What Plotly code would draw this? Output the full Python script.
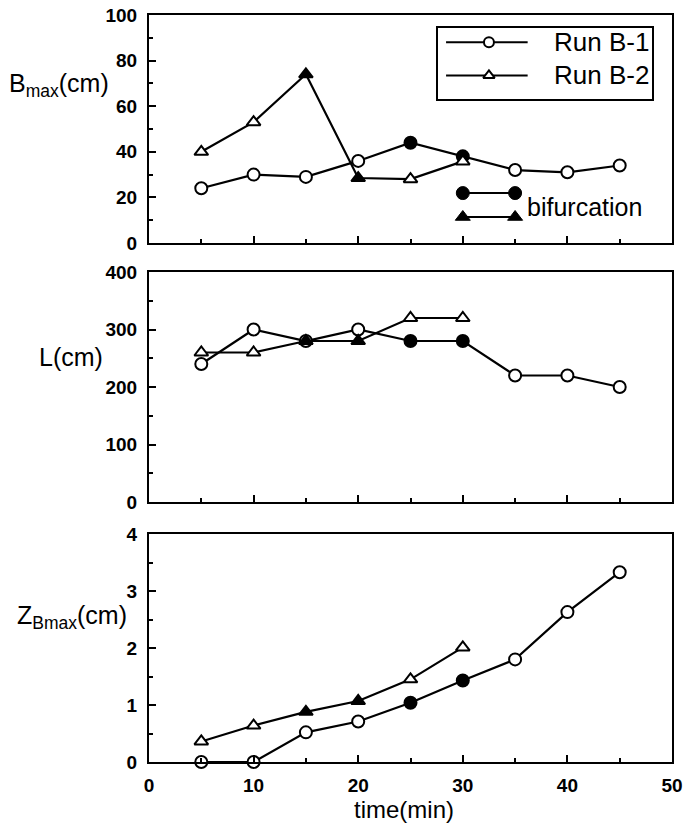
import plotly.graph_objects as go
from plotly.subplots import make_subplots

# ---------------- data ----------------
time_b1 = [5, 10, 15, 20, 25, 30, 35, 40, 45]
time_b2 = [5, 10, 15, 20, 25, 30]

bmax_b1 = [24, 30, 29, 36, 44, 38, 32, 31, 34]
bmax_b2 = [40, 53, 74, 28.5, 28, 35.8]

L_b1 = [240, 300, 280, 300, 280, 280, 220, 220, 200]
L_b2 = [260, 260, 280, 280, 320, 320]

z_b1 = [0, 0, 0.52, 0.71, 1.04, 1.43, 1.80, 2.63, 3.33]
z_b2 = [0.36, 0.64, 0.88, 1.07, 1.45, 2.01]

# bifurcation flags (filled symbols)
bif_b1 = [False, False, False, False, True, True, False, False, False]
bif_b2 = [False, False, True, True, False, False]

x_ticks = [0, 10, 20, 30, 40, 50]
series_names = ["Run B-1", "Run B-2"]
bif_label = "bifurcation"

# legend key anchors (in top-panel data coordinates)
leg_line_x = [28.4, 36.2]
leg_mark_x = 32.5
leg_rows_y = [88.0, 73.5]
bif_x = [30, 35]
bif_rows_y = [21.9, 11.4]

FONT = "Liberation Sans"
W, H = 686, 825
ML, MR, MT, MB = 149, 14, 15, 63
PW, PH = W - ML - MR, H - MT - MB


def py(px):
    return (H - MB - px) / PH


def pxx(px):
    return (px - ML) / PW


fig = make_subplots(rows=3, cols=1, shared_xaxes=False, vertical_spacing=0.0)

dom_top = [py(243), 1.0]
dom_mid = [py(502), py(272)]
dom_bot = [0.0, py(534)]


def fills(flags):
    return ["black" if f else "white" for f in flags]


panels = [
    (1, bmax_b1, bmax_b2),
    (2, L_b1, L_b2),
    (3, z_b1, z_b2),
]
for row, y1, y2 in panels:
    fig.add_trace(go.Scatter(
        x=time_b1, y=y1, mode="lines+markers",
        line=dict(color="black", width=2.2),
        marker=dict(symbol="circle", size=12, color=fills(bif_b1),
                    line=dict(color="black", width=2)),
        showlegend=False, hoverinfo="skip", cliponaxis=False), row=row, col=1)
    fig.add_trace(go.Scatter(
        x=time_b2, y=y2, mode="lines+markers",
        line=dict(color="black", width=2.2),
        marker=dict(symbol="triangle-up", size=12, color=fills(bif_b2),
                    line=dict(color="black", width=2)),
        showlegend=False, hoverinfo="skip", cliponaxis=False), row=row, col=1)

# ---- legend keys (top panel) ----
for i, (sym, name) in enumerate(zip(["circle", "triangle-up"], series_names)):
    fig.add_trace(go.Scatter(
        x=leg_line_x, y=[leg_rows_y[i]] * 2, mode="lines",
        line=dict(color="black", width=2), showlegend=False, hoverinfo="skip"),
        row=1, col=1)
    fig.add_trace(go.Scatter(
        x=[leg_mark_x], y=[leg_rows_y[i]], mode="markers",
        marker=dict(symbol=sym, size=10, color="white",
                    line=dict(color="black", width=2)),
        showlegend=False, hoverinfo="skip"), row=1, col=1)
    fig.add_annotation(x=pxx(651), y=py([42, 75][i]), xref="paper", yref="paper",
                       text=name, showarrow=False, xanchor="right", yanchor="middle",
                       font=dict(family=FONT, size=26, color="black"))

for i, sym in enumerate(["circle", "triangle-up"]):
    fig.add_trace(go.Scatter(
        x=bif_x, y=[bif_rows_y[i]] * 2, mode="lines+markers",
        line=dict(color="black", width=2),
        marker=dict(symbol=sym, size=13, color="black",
                    line=dict(color="black", width=1)),
        showlegend=False, hoverinfo="skip"), row=1, col=1)
fig.add_annotation(x=pxx(525), y=py(207), xref="paper", yref="paper",
                   text=bif_label, showarrow=False, xanchor="left", yanchor="middle",
                   font=dict(family=FONT, size=25, color="black"))

# legend box
fig.add_shape(type="rect", xref="paper", yref="paper",
              x0=pxx(437), x1=pxx(653), y0=py(100), y1=py(27),
              line=dict(color="black", width=2), fillcolor="rgba(0,0,0,0)")

# ---- axes ----
tickfont = dict(family=FONT, size=19, color="black", weight="bold")
common_x = dict(range=[0, 50], showline=True, linecolor="black", linewidth=2,
                mirror=True, ticks="inside", ticklen=7, tickwidth=1.5,
                tickcolor="black", tickvals=x_ticks, showgrid=False, zeroline=False,
                minor=dict(dtick=5, tick0=0, ticks="inside", ticklen=4,
                           tickwidth=1.5, tickcolor="black", showgrid=False),
                tickfont=tickfont, fixedrange=True, automargin=False)
fig.update_xaxes(**common_x)
fig.update_xaxes(showticklabels=False, row=1, col=1)
fig.update_xaxes(showticklabels=False, row=2, col=1)
fig.update_xaxes(showticklabels=True, ticklabelstandoff=5, row=3, col=1)

common_y = dict(showline=True, linecolor="black", linewidth=2, mirror=True,
                ticks="inside", ticklen=7, tickwidth=1.5, tickcolor="black",
                showgrid=False, zeroline=False, tickfont=tickfont,
                ticklabelstandoff=6, fixedrange=True, automargin=False)
fig.update_yaxes(**common_y)
fig.update_yaxes(range=[0, 100], dtick=20, tick0=0,
                 minor=dict(dtick=10, ticks="inside", ticklen=4, tickwidth=1.5,
                            tickcolor="black", showgrid=False),
                 domain=dom_top, row=1, col=1)
fig.update_yaxes(range=[0, 400], dtick=100, tick0=0,
                 minor=dict(dtick=50, ticks="inside", ticklen=4, tickwidth=1.5,
                            tickcolor="black", showgrid=False),
                 domain=dom_mid, row=2, col=1)
fig.update_yaxes(range=[0, 4], dtick=1, tick0=0,
                 minor=dict(dtick=0.5, ticks="inside", ticklen=4, tickwidth=1.5,
                            tickcolor="black", showgrid=False),
                 domain=dom_bot, row=3, col=1)

# ---- axis titles as horizontal annotations ----
title_font = dict(family=FONT, size=25, color="black")
fig.add_annotation(x=pxx(111), y=py(85), xref="paper", yref="paper",
                   text="B<sub>max</sub>(cm)", showarrow=False,
                   xanchor="right", yanchor="middle", font=title_font)
fig.add_annotation(x=pxx(105), y=py(357), xref="paper", yref="paper",
                   text="L(cm)", showarrow=False,
                   xanchor="right", yanchor="middle", font=title_font)
fig.add_annotation(x=pxx(129), y=py(617), xref="paper", yref="paper",
                   text="Z<sub>Bmax</sub>(cm)", showarrow=False,
                   xanchor="right", yanchor="middle", font=title_font)
fig.add_annotation(x=pxx(404), y=py(810), xref="paper", yref="paper",
                   text="time(min)", showarrow=False,
                   xanchor="center", yanchor="middle",
                   font=dict(family=FONT, size=24, color="black"))

fig.update_layout(width=W, height=H, margin=dict(l=ML, r=MR, t=MT, b=MB, autoexpand=False),
                  paper_bgcolor="white", plot_bgcolor="white",
                  font=dict(family=FONT, color="black"), showlegend=False)

fig.write_html("out.html", config={"displayModeBar": False},
               post_script="document.body.style.margin='0';"
                           "document.body.style.overflow='hidden';")
